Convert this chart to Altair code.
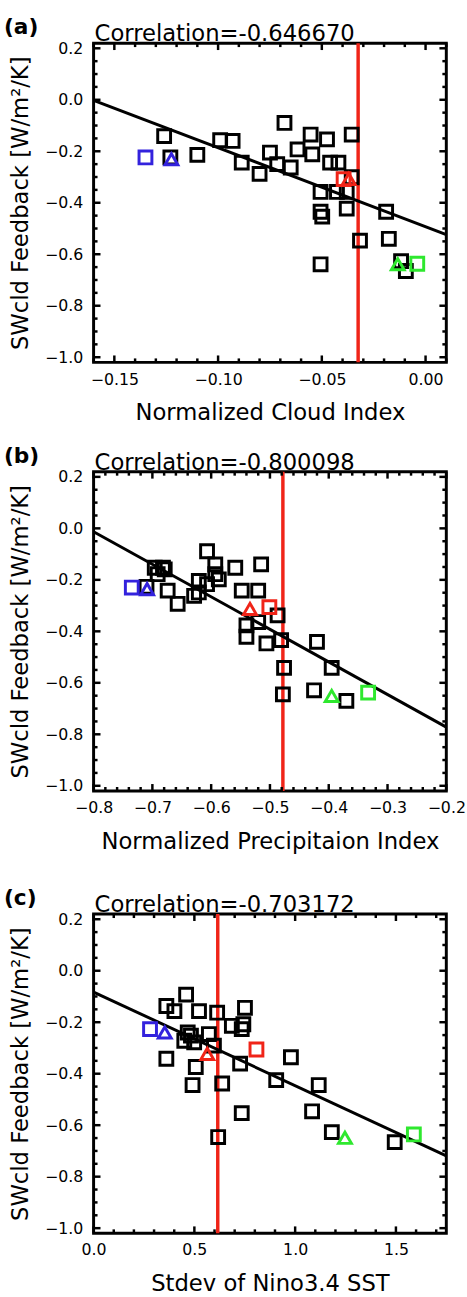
import altair as alt
import pandas as pd

FONT = "DejaVu Sans"
W, H = 358, 324
Y_DOMAIN = [-1.02, 0.22]
Y_MAJOR = [-1.0, -0.8, -0.6, -0.4, -0.2, 0.0, 0.2]
Y_MINOR = [round(-1.0 + 0.05 * i, 2) for i in range(25) if i % 4 != 0]
Y_TITLE = "SWcld Feedback [W/m²/K]"
COLORS = {"black": "#000000", "blue": "#3322dd", "red": "#f02418", "green": "#2ee82e"}

# ---------------- panel (a) ----------------
a_black_x = [-0.126, -0.123, -0.110, -0.099, -0.093, -0.0886, -0.080, -0.075, -0.0715, -0.068,
             -0.065, -0.0617, -0.0554, -0.0546, -0.0475, -0.046, -0.042, -0.0356, -0.0356, -0.0506,
             -0.0506, -0.0498, -0.038, -0.038, -0.0427, -0.019, -0.0316, -0.0177, -0.0506, -0.0118, -0.0095]
a_black_y = [-0.141, -0.224, -0.214, -0.157, -0.160, -0.244, -0.288, -0.205, -0.250, -0.090,
             -0.263, -0.193, -0.135, -0.212, -0.154, -0.244, -0.244, -0.135, -0.301, -0.358,
             -0.435, -0.454, -0.423, -0.358, -0.358, -0.435, -0.547, -0.540, -0.639, -0.627, -0.665]
a_spec_color = ["blue", "blue", "red", "red", "green", "green"]
a_spec_shape = ["sq", "tri", "sq", "tri", "sq", "tri"]
a_spec_x = [-0.135, -0.1225, -0.0395, -0.037, -0.004, -0.0134]
a_spec_y = [-0.224, -0.231, -0.308, -0.308, -0.637, -0.639]
a_line_x = [-0.16, 0.01]
a_line_y = [-0.002, -0.524]
a_red_x = [-0.0325]
a_xticks = [-0.15, -0.10, -0.05, 0.00]
a_xminor = [round(-0.16 + 0.01 * i, 2) for i in range(18) if round(-0.16 + 0.01 * i, 2) not in a_xticks]

# ---------------- panel (b) ----------------
b_black_x = [-0.71, -0.696, -0.679, -0.691, -0.682, -0.674, -0.657, -0.629, -0.621, -0.607,
             -0.607, -0.593, -0.587, -0.593, -0.559, -0.515, -0.548, -0.520, -0.621, -0.487,
             -0.540, -0.520, -0.506, -0.481, -0.540, -0.420, -0.476, -0.395, -0.478, -0.425, -0.370]
b_black_y = [-0.227, -0.153, -0.159, -0.178, -0.153, -0.242, -0.293, -0.262, -0.204, -0.217,
             -0.089, -0.140, -0.198, -0.178, -0.153, -0.140, -0.242, -0.242, -0.249, -0.338,
             -0.377, -0.364, -0.447, -0.434, -0.421, -0.441, -0.542, -0.542, -0.645, -0.629, -0.670]
b_spec_color = ["blue", "blue", "red", "red", "green", "green"]
b_spec_shape = ["sq", "tri", "sq", "tri", "sq", "tri"]
b_spec_x = [-0.735, -0.709, -0.501, -0.534, -0.333, -0.395]
b_spec_y = [-0.230, -0.236, -0.306, -0.313, -0.638, -0.651]
b_line_x = [-0.8, -0.2]
b_line_y = [-0.013, -0.772]
b_red_x = [-0.478]
b_xticks = [-0.8, -0.7, -0.6, -0.5, -0.4, -0.3, -0.2]
b_xminor = [round(-0.8 + 0.02 * i, 2) for i in range(31) if i % 5 != 0]

# ---------------- panel (c) ----------------
c_black_x = [0.361, 0.459, 0.401, 0.523, 0.613, 0.751, 0.743, 0.686, 0.735, 0.572,
             0.483, 0.450, 0.499, 0.467, 0.597, 0.361, 0.507, 0.727, 0.979, 0.491,
             0.638, 0.906, 1.117, 0.735, 0.618, 1.084, 1.182, 1.494]
c_black_y = [-0.137, -0.093, -0.157, -0.157, -0.163, -0.144, -0.208, -0.214, -0.227, -0.246,
             -0.252, -0.272, -0.278, -0.240, -0.291, -0.342, -0.374, -0.361, -0.336, -0.444,
             -0.438, -0.425, -0.444, -0.553, -0.646, -0.546, -0.627, -0.666]
c_spec_color = ["blue", "blue", "red", "red", "green", "green"]
c_spec_shape = ["sq", "tri", "sq", "tri", "sq", "tri"]
c_spec_x = [0.28, 0.353, 0.808, 0.564, 1.589, 1.247]
c_spec_y = [-0.227, -0.240, -0.306, -0.323, -0.636, -0.649]
c_line_x = [0.0, 1.75]
c_line_y = [-0.083, -0.719]
c_red_x = [0.616]
c_xticks = [0.0, 0.5, 1.0, 1.5]
c_xminor = [round(0.1 * i, 1) for i in range(18) if i % 5 != 0]


def make_panel(label, corr, xtitle, xdom, xmajor, xminor, xfmt,
               bx, by, sc, ss, sx, sy, lx, ly, redx):
    xs = alt.Scale(domain=xdom, nice=False, zero=False)
    ys = alt.Scale(domain=Y_DOMAIN, nice=False, zero=False)
    x_axis = alt.Axis(values=xmajor, format=xfmt, title=xtitle, domain=False, ticks=False,
                      grid=False, labelFontSize=16, labelFont=FONT, labelColor="black",
                      labelPadding=9, titleFontSize=23, titleFont=FONT, titleFontWeight="normal",
                      titleColor="black", titlePadding=15, labelFlush=False)
    y_axis = alt.Axis(values=Y_MAJOR, format=".1f", title=Y_TITLE, domain=False, ticks=False,
                      grid=False, labelFontSize=16, labelFont=FONT, labelColor="black",
                      labelPadding=11, titleFontSize=23, titleFont=FONT, titleFontWeight="normal",
                      titleColor="black", titlePadding=12, labelFlush=False)

    def X(f):
        return alt.X(f, type="quantitative", scale=xs, axis=x_axis)

    def Y(f):
        return alt.Y(f, type="quantitative", scale=ys, axis=y_axis)

    black_df = pd.DataFrame({"x": bx, "y": by})
    spec_df = pd.DataFrame({"x": sx, "y": sy, "c": sc, "s": ss})
    line_df = pd.DataFrame({"x": lx, "y": ly})
    red_df = pd.DataFrame({"x": redx})
    xmaj_df = pd.DataFrame({"v": xmajor})
    xmin_df = pd.DataFrame({"v": xminor})
    ymaj_df = pd.DataFrame({"v": Y_MAJOR})
    ymin_df = pd.DataFrame({"v": Y_MINOR})
    lab_df = pd.DataFrame({"t": [label]})
    corr_df = pd.DataFrame({"t": [corr]})

    red = alt.Chart(red_df).mark_rule(color=COLORS["red"], strokeWidth=3.5).encode(x=X("x"))
    reg = alt.Chart(line_df).mark_line(color="black", strokeWidth=3).encode(x=X("x"), y=Y("y"))
    black = alt.Chart(black_df).mark_point(shape="square", filled=False, color="black",
                                           strokeWidth=3, size=170, opacity=1).encode(x=X("x"), y=Y("y"))
    spec = alt.Chart(spec_df).mark_point(filled=False, strokeWidth=3, size=170, opacity=1).encode(
        x=X("x"), y=Y("y"),
        color=alt.Color("c:N", scale=alt.Scale(domain=list(COLORS.keys()), range=list(COLORS.values())), legend=None),
        shape=alt.Shape("s:N", scale=alt.Scale(domain=["sq", "tri"], range=["square", "triangle-up"]), legend=None),
    )
    tick_layers = []
    for df, ln in ((xmaj_df, 7), (xmin_df, 4)):
        tick_layers.append(alt.Chart(df).mark_rule(color="black", strokeWidth=2.5).encode(
            x=X("v"), y=alt.value(H), y2=alt.value(H - ln)))
        tick_layers.append(alt.Chart(df).mark_rule(color="black", strokeWidth=2.5).encode(
            x=X("v"), y=alt.value(0), y2=alt.value(ln)))
    for df, ln in ((ymaj_df, 7), (ymin_df, 4)):
        tick_layers.append(alt.Chart(df).mark_rule(color="black", strokeWidth=2.5).encode(
            y=Y("v"), x=alt.value(0), x2=alt.value(ln)))
        tick_layers.append(alt.Chart(df).mark_rule(color="black", strokeWidth=2.5).encode(
            y=Y("v"), x=alt.value(W), x2=alt.value(W - ln)))
    lab = alt.Chart(lab_df).mark_text(align="left", baseline="alphabetic", fontSize=22,
                                      fontWeight="bold", font=FONT, color="black").encode(
        text="t:N", x=alt.value(-91), y=alt.value(-9))
    corr_t = alt.Chart(corr_df).mark_text(align="left", baseline="alphabetic", fontSize=23,
                                          font=FONT, color="black").encode(
        text="t:N", x=alt.value(1), y=alt.value(-2))

    return alt.layer(red, reg, black, spec, *tick_layers, lab, corr_t).properties(width=W, height=H)


pa = make_panel("(a)", "Correlation=-0.646670", "Normalized Cloud Index", [-0.16, 0.01],
                a_xticks, a_xminor, ".2f", a_black_x, a_black_y, a_spec_color, a_spec_shape,
                a_spec_x, a_spec_y, a_line_x, a_line_y, a_red_x)
pb = make_panel("(b)", "Correlation=-0.800098", "Normalized Precipitaion Index", [-0.8, -0.2],
                b_xticks, b_xminor, ".1f", b_black_x, b_black_y, b_spec_color, b_spec_shape,
                b_spec_x, b_spec_y, b_line_x, b_line_y, b_red_x)
pc = make_panel("(c)", "Correlation=-0.703172", "Stdev of Nino3.4 SST", [0.0, 1.75],
                c_xticks, c_xminor, ".1f", c_black_x, c_black_y, c_spec_color, c_spec_shape,
                c_spec_x, c_spec_y, c_line_x, c_line_y, c_red_x)

top = alt.vconcat(pa, pb, spacing=17)
chart = alt.vconcat(top, pc, spacing=31).properties(
    padding={"left": 2, "top": 5, "right": 0, "bottom": 0}
).configure(background="white").configure_view(stroke="black", strokeWidth=3)

chart.save("out.html", embed_options={"renderer": "svg", "actions": False})
